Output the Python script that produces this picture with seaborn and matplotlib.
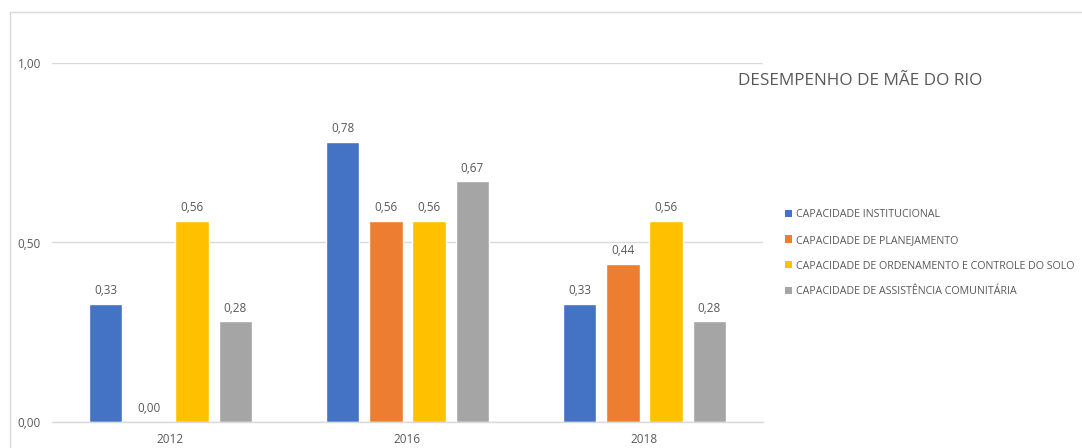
import matplotlib
matplotlib.use("Agg")
import matplotlib.pyplot as plt
from matplotlib.lines import Line2D
from matplotlib.patches import Patch
import seaborn as sns
import pandas as pd

years = ["2012", "2016", "2018"]
series = [
    "CAPACIDADE INSTITUCIONAL",
    "CAPACIDADE DE PLANEJAMENTO",
    "CAPACIDADE DE ORDENAMENTO E CONTROLE DO SOLO",
    "CAPACIDADE DE ASSISTÊNCIA COMUNITÁRIA",
]
institucional = [0.33, 0.78, 0.33]
planejamento = [0.00, 0.56, 0.44]
ordenamento = [0.56, 0.56, 0.56]
assistencia = [0.28, 0.67, 0.28]
colors = ["#4472C4", "#ED7D31", "#FFC000", "#A5A5A5"]
title = "DESEMPENHO DE MÃE DO RIO"
ytick_vals = [0.0, 0.5, 1.0]

values = [institucional, planejamento, ordenamento, assistencia]
rows = []
for s, vals in zip(series, values):
    for y, v in zip(years, vals):
        rows.append({"ano": y, "serie": s, "valor": v})
df = pd.DataFrame(rows)

sns.set_theme(style="white")
plt.rcParams["font.family"] = ["Open Sans", "DejaVu Sans"]
txt = "#595959"
grid = "#D9D9D9"

fig = plt.figure(figsize=(10.82, 4.48), dpi=100)
ax = fig.add_axes([52 / 1082, 1 - 422 / 448, (763 - 52) / 1082, (422 - 63) / 448])

sns.barplot(data=df, x="ano", y="valor", hue="serie", order=years,
            hue_order=series, palette=colors, width=0.73, gap=0.22,
            saturation=1, legend=False, ax=ax, errorbar=None)

for cont, vals in zip(ax.containers, values):
    ax.bar_label(cont, labels=[f"{v:.2f}".replace(".", ",") for v in vals],
                 padding=5, fontsize=8.5, color=txt)

ax.set_ylim(0, 1.0)
ax.set_xlim(-0.5, 2.5)
ax.set_yticks(ytick_vals)
ax.set_yticklabels([f"{v:.2f}".replace(".", ",") for v in ytick_vals])
ax.yaxis.grid(True, color=grid, linewidth=1)
ax.set_axisbelow(True)
for sp in ["top", "right", "left"]:
    ax.spines[sp].set_visible(False)
ax.spines["bottom"].set_color(grid)
ax.spines["bottom"].set_linewidth(1)
ax.tick_params(axis="y", length=0, pad=8, labelsize=8.5, labelcolor=txt)
ax.tick_params(axis="x", length=0, pad=8, labelsize=8.5, labelcolor=txt)
ax.set_xlabel("")
ax.set_ylabel("")

fig.text(738 / 1082, 1 - 81 / 448, title, fontsize=12.3, color=txt,
         ha="left", va="center")

handles = [Patch(facecolor=c, edgecolor="none") for c in colors]
fig.legend(handles, series, loc="upper left",
           bbox_to_anchor=(785 / 1082, 1 - 209 / 448), frameon=False,
           fontsize=7.7, labelcolor=txt, handlelength=0.65, handleheight=0.65,
           handletextpad=0.35, labelspacing=1.38, borderaxespad=0,
           borderpad=0)

fig.add_artist(Line2D([10 / 1082, 10 / 1082], [0, 1 - 12 / 448],
                      transform=fig.transFigure, color=grid, linewidth=1))
fig.add_artist(Line2D([10 / 1082, 1], [1 - 12 / 448, 1 - 12 / 448],
                      transform=fig.transFigure, color=grid, linewidth=1))

fig.savefig("out.png", dpi=100, facecolor="white")
